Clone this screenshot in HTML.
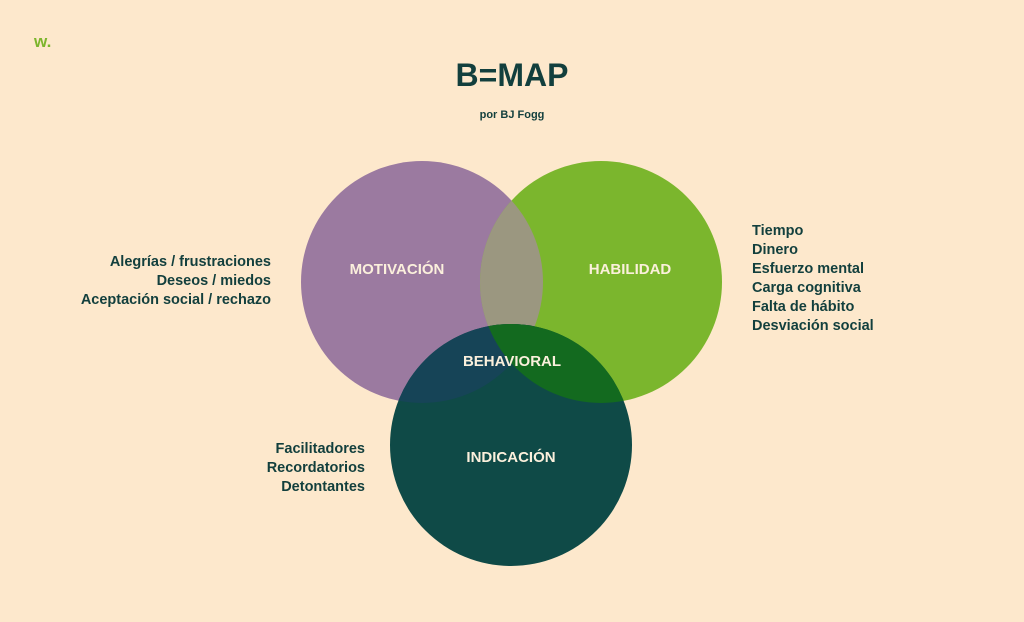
<!DOCTYPE html>
<html><head><meta charset="utf-8"><style>
body{margin:0;background:#fde8cc;}
svg{display:block}
text{font-family:"Liberation Sans",sans-serif;font-weight:bold}
</style></head><body>
<svg width="1024" height="622" viewBox="0 0 1024 622">
<defs>
<clipPath id="cm"><circle cx="422" cy="282" r="121"/></clipPath>
<clipPath id="ch"><circle cx="601" cy="282" r="121"/></clipPath>
</defs>
<rect width="1024" height="622" fill="#fde8cc"/>
<text x="34" y="47" font-size="17" fill="#7cb52c">w.</text>
<text x="512" y="86" font-size="32" fill="#123f3d" text-anchor="middle">B=MAP</text>
<text x="512" y="118" font-size="11" fill="#123f3d" text-anchor="middle">por BJ Fogg</text>
<circle cx="422" cy="282" r="121" fill="#9b7aa0"/>
<circle cx="601" cy="282" r="121" fill="#7bb62d"/>
<circle cx="601" cy="282" r="121" fill="#9b9780" clip-path="url(#cm)"/>
<circle cx="511" cy="445" r="121" fill="#0f4a47"/>
<circle cx="511" cy="445" r="121" fill="#164457" clip-path="url(#cm)"/>
<circle cx="511" cy="445" r="121" fill="#136a1f" clip-path="url(#ch)"/>
<g fill="#fbf0dc" font-size="15" text-anchor="middle">
<text x="397" y="274">MOTIVACIÓN</text>
<text x="630" y="274">HABILIDAD</text>
<text x="512" y="366">BEHAVIORAL</text>
<text x="511" y="462">INDICACIÓN</text>
</g>
<g fill="#123f3d" font-size="14.5" text-anchor="end">
<text x="271" y="266">Alegrías / frustraciones</text>
<text x="271" y="285">Deseos / miedos</text>
<text x="271" y="304">Aceptación social / rechazo</text>
<text x="365" y="453">Facilitadores</text>
<text x="365" y="472">Recordatorios</text>
<text x="365" y="491">Detontantes</text>
</g>
<g fill="#123f3d" font-size="14.5">
<text x="752" y="235">Tiempo</text>
<text x="752" y="254">Dinero</text>
<text x="752" y="273">Esfuerzo mental</text>
<text x="752" y="292">Carga cognitiva</text>
<text x="752" y="311">Falta de hábito</text>
<text x="752" y="330">Desviación social</text>
</g>
</svg>
</body></html>
